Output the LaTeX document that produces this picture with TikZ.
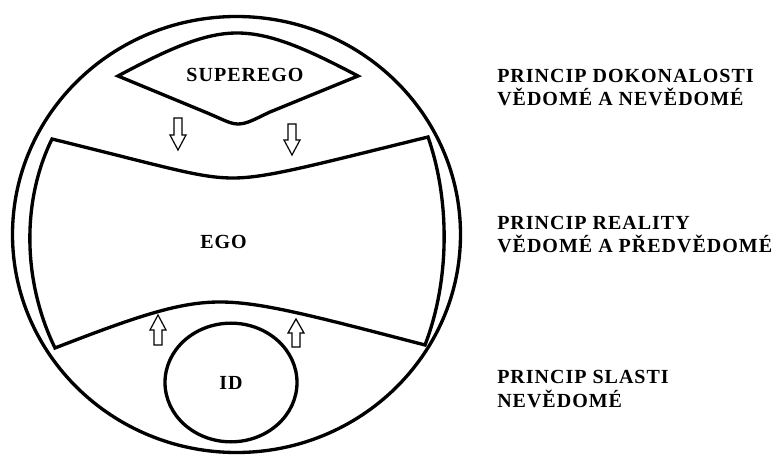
\documentclass[tikz,border=0pt]{standalone}
\usepackage{fontspec}
\setmainfont{Liberation Serif}[LetterSpace=5]
\usetikzlibrary{shapes.geometric}
\tikzset{
  outline/.style={draw=black, line width=2.5pt, line join=miter},
  hollow/.style={draw=black, line width=0.9pt, fill=white},
  lbl/.style={font=\fontsize{15}{17.6}\selectfont\bfseries, inner sep=0pt}
}
\begin{document}
\begin{tikzpicture}[x=0.75pt, y=-0.75pt]
  \useasboundingbox (0,0) rectangle (779,456);
  % Psyche
  \draw[outline] (236.5,234.5) ellipse [x radius=224, y radius=218];
  % Superego
  \draw[outline] (118,76) .. controls (170,48) and (205,33) .. (237,33)
        .. controls (270,33) and (305,48) .. (358,76)
        -- (270,112) .. controls (255,119) and (247,124) .. (238,124)
        .. controls (230,124) and (222,119) .. (205,112) -- cycle;
  \node[lbl, anchor=base] (superego) at (245,82) {SUPEREGO};
  % Ego
  \draw[outline] (52,139) .. controls (170,168) and (200,178) .. (233,178)
        .. controls (266,178) and (310,166) .. (428,137)
        .. controls (450,200) and (450,280) .. (425,345)
        .. controls (310,315) and (260,302) .. (220,302)
        .. controls (180,302) and (140,315) .. (55,348)
        .. controls (22,280) and (22,200) .. (52,139) -- cycle;
  \node[lbl, anchor=base] (ego) at (223.5,248) {EGO};
  % Id
  \node[outline, lbl, ellipse, minimum width=99pt, minimum height=89pt] (id)
        at (231,382.5) {ID};
  % Sipky (dolu / nahoru)
  \foreach \x/\a/\b/\c in {178/118/135/150, 292/124/140/155,
                           158/345/330/315, 296/347/333/319} {
    \draw[hollow] (\x-4,\a) -- (\x+4,\a) -- (\x+4,\b) -- (\x+8,\b)
          -- (\x,\c) -- (\x-8,\b) -- (\x-4,\b) -- cycle;
  }
  % Popisky vpravo
  \node[lbl, anchor=base west, align=left] (dokonalost) at (497,105.5)
        {PRINCIP DOKONALOSTI\\VĚDOMÉ A NEVĚDOMÉ};
  \node[lbl, anchor=base west, align=left] (realita) at (497,252.7)
        {PRINCIP REALITY\\VĚDOMÉ A PŘEDVĚDOMÉ};
  \node[lbl, anchor=base west, align=left] (slast) at (497,407.3)
        {PRINCIP SLASTI\\NEVĚDOMÉ};
\end{tikzpicture}
\end{document}
